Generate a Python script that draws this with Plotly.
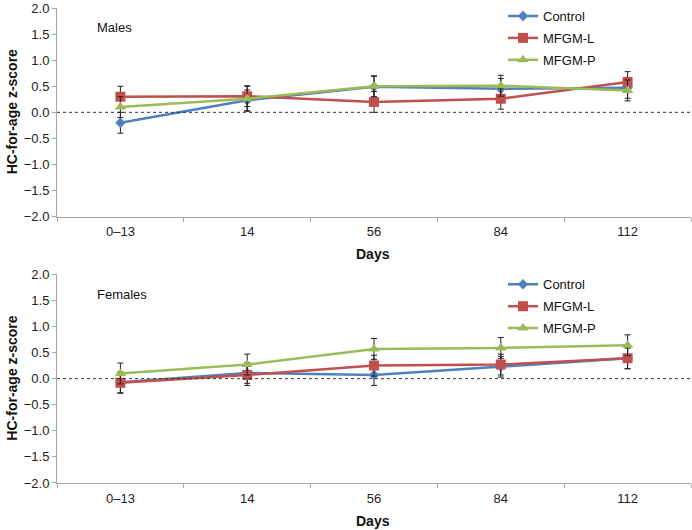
import plotly.graph_objects as go
from plotly.subplots import make_subplots

categories = ["0\u201313", "14", "56", "84", "112"]
series_names = ["Control", "MFGM-L", "MFGM-P"]

males_control = [-0.20, 0.23, 0.49, 0.45, 0.47]
males_mfgm_l = [0.30, 0.31, 0.20, 0.26, 0.58]
males_mfgm_p = [0.10, 0.26, 0.50, 0.51, 0.42]
males_err_control = [0.20, 0.20, 0.20, 0.20, 0.20]
males_err_mfgm_l = [0.20, 0.20, 0.20, 0.20, 0.20]
males_err_mfgm_p = [0.20, 0.24, 0.20, 0.20, 0.20]

females_control = [-0.07, 0.11, 0.07, 0.23, 0.39]
females_mfgm_l = [-0.08, 0.07, 0.25, 0.27, 0.39]
females_mfgm_p = [0.10, 0.27, 0.57, 0.59, 0.64]
females_err_control = [0.20, 0.20, 0.20, 0.20, 0.20]
females_err_mfgm_l = [0.20, 0.20, 0.20, 0.20, 0.20]
females_err_mfgm_p = [0.20, 0.20, 0.20, 0.20, 0.20]

colors = ["#4F81BD", "#C0504D", "#9BBB59"]
symbols = ["diamond", "square", "triangle-up"]
msizes = [8, 10, 10]

W, H = 692, 530
mL, mR, mT, mB = 57, 1, 5, 47
ph = H - mT - mB

fig = make_subplots(rows=2, cols=1)
fig.update_layout(
    xaxis=dict(domain=[0, 1], anchor="y"),
    yaxis=dict(domain=[(483 - 215) / ph, 1.0], anchor="x"),
    xaxis2=dict(domain=[0, 1], anchor="y2"),
    yaxis2=dict(domain=[0, (483 - 273) / ph], anchor="x2"),
)

panels = [
    (1, [males_control, males_mfgm_l, males_mfgm_p],
     [males_err_control, males_err_mfgm_l, males_err_mfgm_p], "legend", "m"),
    (2, [females_control, females_mfgm_l, females_mfgm_p],
     [females_err_control, females_err_mfgm_l, females_err_mfgm_p], "legend2", "f"),
]

for row, vals, errs, leg, grp in panels:
    for i, name in enumerate(series_names):
        fig.add_trace(go.Scatter(
            x=categories, y=vals[i], name=name, mode="lines+markers",
            line=dict(color=colors[i], width=2.5),
            marker=dict(symbol=symbols[i], size=msizes[i], color=colors[i]),
            error_y=dict(type="data", array=errs[i], color="#222222", thickness=1, width=3),
            legend=leg, legendgroup=f"{grp}{i}",
        ), row=row, col=1)

axis_common = dict(showline=True, linecolor="#A6A6A6", linewidth=1, showgrid=False,
                   zeroline=False, ticks="outside", tickcolor="#A6A6A6", ticklen=4,
                   tickfont=dict(family="Liberation Sans, Arial", size=13, color="#222222"))
for xa in ["xaxis", "xaxis2"]:
    fig.layout[xa].update(type="category", range=[-0.5, 4.5], tickson="boundaries",
                          ticklabelstandoff=3, mirror=False, **axis_common)
for ya in ["yaxis", "yaxis2"]:
    fig.layout[ya].update(range=[-2, 2], dtick=0.5, tickformat=".1f", **axis_common)

for yref in ["y", "y2"]:
    fig.add_shape(type="line", xref="paper", x0=0, x1=1, yref=yref, y0=0, y1=0,
                  line=dict(color="#333333", width=1, dash="dot"))

def px_x(x):
    return (x - mL) / (W - mL - mR)

def px_y(y):
    return (H - mB - y) / ph

font = dict(family="Liberation Sans, Arial", color="#111111")
anns = [
    dict(text="Males", x=px_x(95), y=px_y(25), xanchor="left", yanchor="middle",
         font=dict(size=13, **font)),
    dict(text="Females", x=px_x(95), y=px_y(293), xanchor="left", yanchor="middle",
         font=dict(size=13, **font)),
    dict(text="<b>Days</b>", x=px_x(373), y=px_y(253), xanchor="center", yanchor="middle",
         font=dict(size=14, **font)),
    dict(text="<b>Days</b>", x=px_x(373), y=px_y(521), xanchor="center", yanchor="middle",
         font=dict(size=14, **font)),
    dict(text="<b>HC-for-age z-score</b>", x=px_x(12), y=px_y(110), xanchor="center",
         yanchor="middle", textangle=-90, font=dict(size=14, **font)),
    dict(text="<b>HC-for-age z-score</b>", x=px_x(12), y=px_y(378), xanchor="center",
         yanchor="middle", textangle=-90, font=dict(size=14, **font)),
]
for a in anns:
    a.update(xref="paper", yref="paper", showarrow=False)
fig.update_layout(annotations=anns)

leg_common = dict(xanchor="left", yanchor="top", bgcolor="rgba(0,0,0,0)",
                  font=dict(family="Liberation Sans, Arial", size=13, color="#111111"),
                  itemwidth=30, tracegroupgap=2)
fig.update_layout(
    legend=dict(x=px_x(503), y=px_y(-2), **leg_common),
    legend2=dict(x=px_x(503), y=px_y(268), **leg_common),
    width=W, height=H, margin=dict(l=mL, r=mR, t=mT, b=mB),
    plot_bgcolor="white", paper_bgcolor="white",
)

fig.write_html("out.html", config={"displayModeBar": False},
               post_script="document.body.style.margin='0';document.body.style.overflow='hidden';")
